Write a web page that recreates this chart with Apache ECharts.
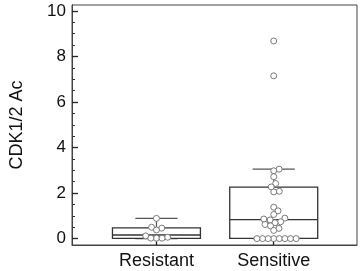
<!DOCTYPE html>
<html><head><meta charset="utf-8">
<script src="https://cdn.jsdelivr.net/npm/echarts@6/dist/echarts.min.js"></script>
<style>html,body{margin:0;padding:0;background:#fff}#c{width:362px;height:271px}</style>
</head><body><div id="c"></div>
<script>
// ---- data ----
const categories = ['Resistant', 'Sensitive'];
const categoryPositions = [1, 2];
const yTickValues = [0, 2, 4, 6, 8, 10];
const yMinorTickValues = [0.5, 1, 1.5, 2.5, 3, 3.5, 4.5, 5, 5.5, 6.5, 7, 7.5, 8.5, 9, 9.5];
const yAxisName = 'CDK1/2 Ac';
// box stats: [min, Q1, median, Q3, max]
const resistantBox = [0, 0.01, 0.16, 0.47, 0.89];
const sensitiveBox = [0, 0.01, 0.83, 2.26, 3.05];
const resistantValues = [0.89, 0.50, 0.46, 0.38, 0.12, 0.06, 0.02, 0.02, 0.02];
const sensitiveValues = [8.68, 7.15, 3.05, 2.98, 2.72, 2.42, 2.27, 2.08, 2.05,
  1.38, 1.22, 1.06, 0.90, 0.86, 0.82, 0.74, 0.70, 0.62, 0.56, 0.45, 0.36,
  0, 0, 0, 0, 0, 0, 0, 0];

// ---- style ----
const FONT = 'Liberation Sans, Arial, sans-serif';
const BOX_W = 0.75, CAP_W = 0.36;
const DOT = 6, SWARM_D = 5.6;

const chart = echarts.init(document.getElementById('c'), null, {renderer: 'canvas'});

const boxData = [[categoryPositions[0]].concat(resistantBox), [categoryPositions[1]].concat(sensitiveBox)];

function renderBox(params, api) {
  const x = api.value(0);
  const mn = api.coord([x, api.value(1)]);
  const q1 = api.coord([x, api.value(2)]);
  const md = api.coord([x, api.value(3)]);
  const q3 = api.coord([x, api.value(4)]);
  const mx = api.coord([x, api.value(5)]);
  const hb = api.size([BOX_W, 0])[0] / 2;
  const hc = api.size([CAP_W, 0])[0] / 2;
  const ls = {stroke: '#333', lineWidth: 1.3, fill: null};
  const ws = {stroke: '#555', lineWidth: 1.2, fill: null};
  return {type: 'group', children: [
    {type: 'line', shape: {x1: mx[0], y1: q3[1], x2: mx[0], y2: mx[1]}, style: ws},
    {type: 'line', shape: {x1: mx[0] - hc, y1: mx[1], x2: mx[0] + hc, y2: mx[1]}, style: ws},
    {type: 'line', shape: {x1: mn[0], y1: q1[1], x2: mn[0], y2: mn[1]}, style: ws},
    {type: 'line', shape: {x1: mn[0] - hc, y1: mn[1], x2: mn[0] + hc, y2: mn[1]}, style: ws},
    {type: 'rect', shape: {x: q1[0] - hb, y: q3[1], width: 2 * hb, height: q1[1] - q3[1]}, style: ls},
    {type: 'line', shape: {x1: md[0] - hb, y1: md[1], x2: md[0] + hb, y2: md[1]}, style: ls}
  ]};
}

const option = {
  animation: false,
  backgroundColor: '#fff',
  grid: {left: 67, right: 5, top: 5, bottom: 26, show: true, borderColor: '#444', borderWidth: 1},
  xAxis: {
    type: 'value', min: 0.28, max: 2.71,
    splitLine: {show: false},
    axisLine: {show: true, onZero: false, lineStyle: {color: '#444', width: 1}},
    axisTick: {show: true, inside: true, length: 5, customValues: categoryPositions, lineStyle: {color: '#222', width: 1.3}},
    axisLabel: {show: true, customValues: categoryPositions, margin: 7, color: '#111', fontFamily: FONT, fontSize: 18,
      formatter: v => categories[categoryPositions.indexOf(Math.round(v))] || ''}
  },
  yAxis: [{
    type: 'value', min: -0.28, max: 10.26,
    name: yAxisName, nameLocation: 'middle', nameGap: 46, nameRotate: 90,
    nameTextStyle: {color: '#111', fontFamily: FONT, fontSize: 18},
    splitLine: {show: false},
    axisLine: {show: true, onZero: false, lineStyle: {color: '#444', width: 1}},
    axisTick: {show: true, inside: true, length: 6, customValues: yTickValues, lineStyle: {color: '#222', width: 1.3}},
    axisLabel: {show: true, customValues: yTickValues, margin: 6, color: '#111', fontFamily: FONT, fontSize: 17}
  }, {
    type: 'value', min: -0.28, max: 10.26, position: 'left', offset: 0,
    splitLine: {show: false},
    axisLine: {show: true, onZero: false, lineStyle: {color: '#444', width: 1}},
    axisTick: {show: true, inside: true, length: 3, customValues: yMinorTickValues, lineStyle: {color: '#333', width: 1}},
    axisLabel: {show: false}
  }],
  series: [{
    type: 'custom', renderItem: renderBox, data: boxData, z: 2,
    encode: {x: 0, y: [1, 2, 3, 4, 5]}
  }, {
    type: 'scatter', name: categories[0], data: [], symbol: 'circle', symbolSize: DOT, z: 5,
    itemStyle: {color: '#fff', borderColor: '#7a7a7a', borderWidth: 1, opacity: 1}
  }, {
    type: 'scatter', name: categories[1], data: [], symbol: 'circle', symbolSize: DOT, z: 5,
    itemStyle: {color: '#fff', borderColor: '#7a7a7a', borderWidth: 1, opacity: 1}
  }]
};
chart.setOption(option);

function swarm(values, center) {
  const conv = v => chart.convertToPixel({xAxisIndex: 0, yAxisIndex: 0}, v);
  const pxPerX = conv([2, 0])[0] - conv([1, 0])[0];
  const pts = values.map(v => ({v: v, py: conv([center, v])[1], off: 0}));
  const order = pts.slice().sort((a, b) => a.v - b.v);
  const placed = [];
  for (const p of order) {
    const cands = [0];
    for (const q of placed) {
      const dy = p.py - q.py;
      if (Math.abs(dy) < SWARM_D) {
        const dx = Math.sqrt(SWARM_D * SWARM_D - dy * dy);
        cands.push(q.off + dx, q.off - dx);
      }
    }
    cands.sort((a, b) => Math.abs(a) - Math.abs(b) || b - a);
    let chosen = 0;
    for (const c of cands) {
      let ok = true;
      for (const q of placed) {
        const dx = c - q.off, dy = p.py - q.py;
        if (dx * dx + dy * dy < SWARM_D * SWARM_D - 1e-6) { ok = false; break; }
      }
      if (ok) { chosen = c; break; }
    }
    p.off = chosen;
    placed.push(p);
  }
  return pts.map(p => [center + p.off / pxPerX, p.v]);
}

chart.setOption({series: [{}, {data: swarm(resistantValues, categoryPositions[0])}, {data: swarm(sensitiveValues, categoryPositions[1])}]});
</script></body></html>
